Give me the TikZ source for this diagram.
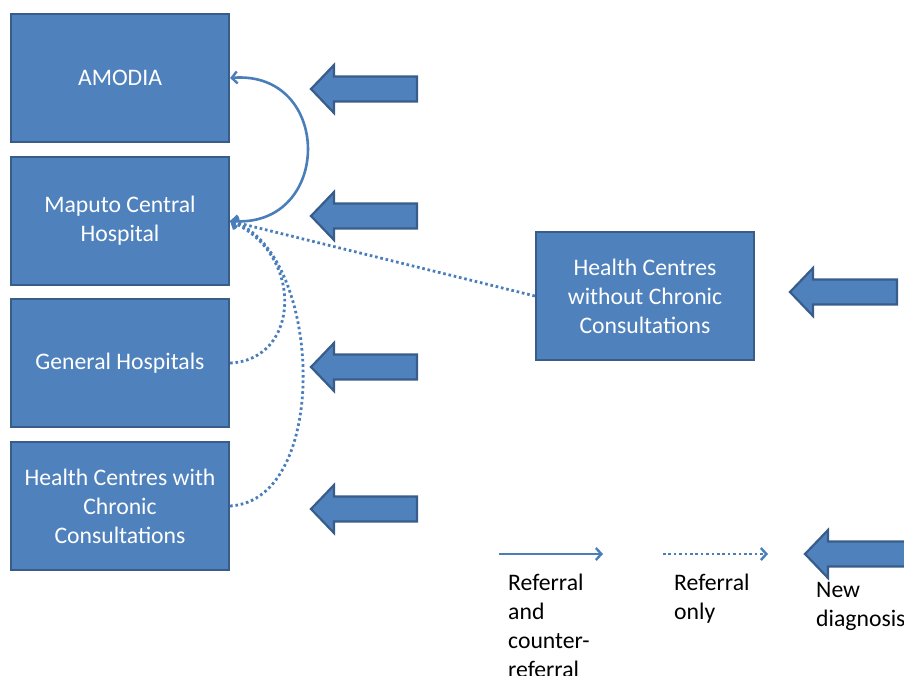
\documentclass[tikz,border=0pt]{standalone}
\usepackage{fontspec}
\setmainfont{Carlito}
\usetikzlibrary{arrows.meta}
\definecolor{boxfill}{HTML}{4F81BD}
\definecolor{boxline}{HTML}{385D8A}
\definecolor{conn}{HTML}{4A7EBB}
\begin{document}
\begin{tikzpicture}[x=1pt,y=-1pt,
  box/.style={draw=boxline,fill=boxfill,line width=2.2pt,minimum width=218pt,minimum height=128pt,
    inner sep=0pt,text=white,align=center,font=\fontsize{23.7}{29}\selectfont},
  legtext/.style={anchor=north west,inner sep=0pt,align=left,font=\fontsize{23.7}{29}\selectfont},
  tipstyle/.style={-{Straight Barb[length=5.5pt,width=12pt,line width=2.4pt]}},
  solidconn/.style={draw=conn,line width=2.6pt},
  dotconn/.style={draw=conn,line width=2.8pt,dash pattern=on 2.6pt off 2.8pt},
  arrowfill/.style={draw=boxline,fill=boxfill,line width=2.2pt,line join=miter},
  blockarr/.pic={\draw[arrowfill] (0,0) -- (23,-24) -- (23,-12.5) -- (#1,-12.5) -- (#1,12.5) -- (23,12.5) -- (23,24) -- cycle;}
]
\useasboundingbox (0,0) rectangle (904,675);

% boxes
\node[box] (amodia) at (120,78) {AMODIA};
\node[box] (maputo) at (120,221) {Maputo Central\\Hospital};
\node[box] (genhosp) at (120,363) {General Hospitals};
\node[box] (hcwith) at (120,506) {Health Centres with\\Chronic\\Consultations};
\node[box] (hcwithout) at (645,296) {Health Centres\\without Chronic\\Consultations};

% block arrows
\pic at (311,89) {blockarr=106};
\pic at (311,216) {blockarr=106};
\pic at (311,367) {blockarr=106};
\pic at (311,509) {blockarr=106};
\pic at (790,292) {blockarr=107};
\pic at (805,554) {blockarr=110};

% connectors
\draw[solidconn,{Straight Barb[length=5.5pt,width=12pt,line width=2.4pt]}-{Straight Barb[length=5.5pt,width=12pt,line width=2.4pt]}]
  (maputo.east) .. controls (333,228) and (333,70) .. (amodia.east);
\draw[dotconn,tipstyle] (hcwithout.west) -- (maputo.east);
\draw[dotconn,tipstyle] (genhosp.east) .. controls (300,360) and (305,255) .. (maputo.east);
\draw[dotconn,tipstyle] (hcwith.east) .. controls (332,500) and (322,250) .. (maputo.east);

% legend
\coordinate (s1) at (499,554);
\coordinate (e1) at (603,554);
\coordinate (s2) at (663,554);
\coordinate (e2) at (768,554);
\draw[solidconn,tipstyle] (s1) -- (e1);
\draw[dotconn,tipstyle] (s2) -- (e2);
\node[legtext] (lt1) at (508,574) {Referral\\and\\counter-\\referral};
\node[legtext] (lt2) at (674,574) {Referral\\only};
\node[legtext] (lt3) at (816,582) {New\\diagnosis};
\end{tikzpicture}
\end{document}
